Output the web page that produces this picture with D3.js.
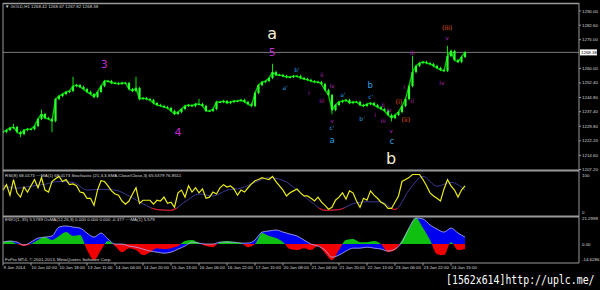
<!DOCTYPE html>
<html>
<head>
<meta charset="utf-8">
<script src="https://cdn.jsdelivr.net/npm/d3@7"></script>
<style>
  body { margin: 0; background: #000; }
  svg { display: block; }
</style>
</head>
<body>
<div id="chart"></div>
<script>
// ---- data (GOLD H1, one value every 2 bars) ----
var closes = [
  1226.8,1227.8,1228.9,1229.4,1226.8,1225.7,1227.8,1228.3,1228.3,1229.9,
  1233.6,1236.2,1234.1,1233.6,1232.5,1244.0,1245.6,1246.6,1247.7,1248.2,
  1250.8,1251.3,1250.3,1249.2,1247.7,1246.6,1245.1,1247.7,1250.8,1253.4,
  1253.4,1252.4,1252.4,1251.9,1252.4,1252.4,1249.2,1248.2,1249.8,1244.0,
  1244.5,1244.0,1243.5,1241.9,1240.9,1240.4,1239.8,1239.3,1237.8,1236.2,
  1237.2,1238.8,1240.4,1240.9,1240.4,1241.4,1241.4,1240.4,1237.8,1237.8,
  1238.8,1242.5,1242.5,1243.0,1241.9,1242.5,1243.0,1243.0,1243.5,1242.5,
  1241.4,1240.4,1247.2,1251.3,1252.9,1253.4,1255.0,1258.1,1256.6,1256.6,
  1256.0,1255.5,1255.5,1256.0,1256.0,1255.0,1254.5,1254.0,1253.4,1252.9,
  1252.9,1251.9,1248.7,1246.1,1238.3,1240.9,1242.5,1243.0,1243.5,1241.9,
  1242.5,1242.5,1240.9,1240.4,1241.4,1241.9,1240.9,1239.8,1238.8,1237.8,
  1235.7,1234.1,1235.7,1237.2,1240.4,1244.0,1250.8,1258.1,1261.3,1262.8,
  1263.4,1262.8,1262.3,1261.3,1260.2,1259.2,1258.7,1266.5,1269.1,1264.4,
  1263.4,1266.0,1268.38
];
// long wicks: [bar index, extreme price]
var spikes = [[3,1230.4],[5,1224.7],[11,1237.8],[14,1227.3],[20,1255.0],[38,1255.0],
  [56,1243.5],[77,1261.8],[94,1236.7],[111,1233.0],[117,1266.0],[127,1271.2]];

var priceTicks = ["1290.00","1282.60","1275.00","1260.00","1252.40","1244.80",
  "1237.40","1229.80","1222.20","1214.60","1207.20"];
var bidPrice = 1268.38;

var dateLabels = ["9 Jan 2014","10 Jan 02:00","10 Jan 18:00","13 Jan 11:00","14 Jan 04:00",
  "14 Jan 20:00","15 Jan 13:00","16 Jan 06:00","16 Jan 22:00","17 Jan 15:00","20 Jan 08:00",
  "21 Jan 04:00","21 Jan 20:00","22 Jan 13:00","23 Jan 06:00","23 Jan 22:00","24 Jan 15:00"];

// stochastic main (yellow), one value per price bar
var stochMain = [
  60,74,47,87,53,42,68,55,71,87, 66,92,60,55,82,89,95,82,87,74,
  76,71,55,53,39,39,21,60,84,82, 71,58,50,47,32,24,32,50,66,26,
  34,34,34,24,34,32,42,26,29,16, 53,60,42,71,55,66,53,63,39,42,
  55,50,66,74,68,71,63,47,60,55, 66,76,84,87,92,89,87,95,82,71,
  60,45,53,58,63,53,45,45,39,32, 42,29,21,11,16,34,42,53,37,58,
  53,32,16,39,34,58,47,39,29,24, 13,13,29,45,82,87,92,100,100,100,
  87,71,53,45,39,32,63,87,71,60, 42,60,71
];
// stochastic signal, one value every 4 bars
var stochSignal = [72,65,70,75,82,80,60,62,60,45,25,10,8,30,50,45,60,65,80,92,85,60,30,8,10,25,30,30,10,60,95,70,80,60];

// EWO and OsMA, one value every 2 bars
var ewo = [1.6,2.5,1.6,-0.8,1.6,4.9,5.7,6.6,13.9,14.8, 13.9,13.1,9.0,5.7,9.0,4.1,0,0,-1.6,-2.5,
  -4.1,-5.7,-6.6,-7.4,-6.6,-4.1,-1.6,1.6,0.8,0, 0,1.6,1.6,1.6,0.8,0.8,3.3,9.8,10.7,11.5,
  9.8,8.2,6.6,3.3,0,-1.6,-4.9,-10.7,-9.0,-5.7, -3.3,-3.3,-2.5,-3.3,-4.1,-5.7,-4.1,1.6,13.1,21.3,
  20.5,15.6,12.3,9.8,13.1,9.0,5.7];
var osma = [1.6,2.5,0,-1.6,0,3.3,5.7,3.3,6.6,9.8, 6.6,7.4,-4.9,-13.1,-4.9,2.5,-1.6,-6.6,-3.3,-4.9,
  -9.0,-6.6,-3.3,-4.1,-3.3,-1.6,2.5,3.3,0.8,-1.6, -2.5,1.6,2.5,1.6,0.8,-2.5,0,9.0,6.6,4.9,
  1.6,-4.1,-4.9,-3.3,-4.9,-1.6,-7.4,-13.1,-4.9,3.3, 4.1,1.6,1.6,2.5,0,-6.6,-4.9,3.3,13.1,21.3,
  13.1,3.3,-8.2,-9.0,1.6,-4.9,-4.1];

// Elliott wave marks: [text, bar index, price, degree]
var waveMarks = [
  ["3",28.9,1261.8,"major"],["4",50,1226.3,"major"],["5",76.9,1268.1,"major"],
  ["a",76.9,1278.5,"primary"],["b",110.9,1213.2,"primary"],
  ["a'",80.6,1249.8,"sub"],["b'",84,1259.7,"sub"],
  ["i",87.4,1247.2,"minor"],["ii",91.1,1256.6,"minor"],["iii",91.1,1243.5,"minor"],
  ["iv",94,1251.3,"minor"],["v",94,1233.0,"minor"],["c'",94,1228.9,"sub"],["a",94,1222.6,"inter"],
  ["a'",97.1,1246.6,"sub"],["b'",102.6,1234.1,"sub"],["b",104.9,1251.3,"inter"],["c'",105.1,1245.1,"sub"],
  ["i",106.3,1235.7,"minor"],["ii",108.6,1241.4,"minor"],["iii",108.6,1233.0,"minor"],
  ["iv",110.3,1238.3,"minor"],["v",110.9,1227.8,"minor"],["c",111.1,1222.1,"inter"],
  ["(i)",113.1,1242.5,"minute"],["(ii)",115.1,1233.0,"minute"],
  ["i",114.6,1250.3,"minor"],["ii",116.9,1243.5,"minor"],["iii",116.9,1268.1,"minor"],
  ["iv",125.4,1252.9,"minor"],["v",126.9,1275.9,"minor"],["(iii)",126.9,1281.1,"minute"]
];

// ---- drawing ----
var width = 600, height = 290;
var left = 3, right = 579;
var tinyFont = "Liberation Sans, Arial, sans-serif";
var gridCol = "#9a9a9a";
var textCol = "#d8d8d8";

var svg = d3.select("#chart").append("svg")
    .attr("width", width)
    .attr("height", height);

svg.append("rect").attr("width", width).attr("height", height).attr("fill", "#000");

// x scale: index of the 2-hour step
var x = d3.scaleLinear().domain([0, closes.length - 1]).range([3, 465]);

// ---- price panel ----
var y = d3.scaleLinear().domain([1207.2, 1290]).range([169.5, 11]);

var defs = svg.append("defs");
defs.append("clipPath").attr("id", "mainClip")
    .append("rect").attr("x", left).attr("y", 4).attr("width", right - left).attr("height", 166);

// bid line
svg.append("line")
    .attr("x1", left).attr("x2", right)
    .attr("y1", y(bidPrice)).attr("y2", y(bidPrice))
    .attr("stroke", "#7a7a7a").attr("stroke-width", 1);

var bars = closes.map(function(c, i) {
    var o = i === 0 ? closes[0] : closes[i - 1];
    return {i: i, o: o, c: c, hi: Math.max(o, c), lo: Math.min(o, c)};
});
spikes.forEach(function(s) {
    var b = bars[s[0]];
    if (s[1] > b.hi) b.hi = s[1];
    if (s[1] < b.lo) b.lo = s[1];
});

var candles = svg.append("g").attr("clip-path", "url(#mainClip)");
// thin trace through the closes keeps the bars joined like the dense hourly chart
candles.append("path").datum(closes)
    .attr("d", d3.line().x(function(d, i) { return x(i); }).y(function(d) { return y(d); }))
    .attr("fill", "none").attr("stroke", "#00c800").attr("stroke-width", 1.4);
candles.selectAll("line.wick")
    .data(bars)
    .enter().append("line")
    .attr("class", "wick")
    .attr("x1", function(d) { return x(d.i); })
    .attr("x2", function(d) { return x(d.i); })
    .attr("y1", function(d) { return y(d.hi) - 1.2; })
    .attr("y2", function(d) { return y(d.lo) + 1.2; })
    .attr("stroke", "#00e600")
    .attr("stroke-width", 1);
candles.selectAll("rect.body")
    .data(bars)
    .enter().append("rect")
    .attr("class", "body")
    .attr("x", function(d) { return x(d.i) - 1.1; })
    .attr("width", 2.2)
    .attr("y", function(d) { return y(Math.max(d.o, d.c)); })
    .attr("height", function(d) { return Math.max(1, Math.abs(y(d.o) - y(d.c))); })
    .attr("fill", "#2cff2c");

// wave labels
var markStyle = {
    major:   {size: 11, color: "#c02ad2"},
    primary: {size: 16, color: "#f2eed8"},
    inter:   {size: 8.5, color: "#2e9fe0"},
    sub:     {size: 6, color: "#2e9fe0"},
    minor:   {size: 6, color: "#b02abc"},
    minute:  {size: 6.5, color: "#e0561c"}
};
svg.append("g").selectAll("text")
    .data(waveMarks)
    .enter().append("text")
    .attr("x", function(d) { return x(d[1]); })
    .attr("y", function(d) { return y(d[2]); })
    .attr("text-anchor", "middle")
    .attr("dominant-baseline", "central")
    .attr("font-family", "DejaVu Sans, sans-serif")
    .attr("font-size", function(d) { return markStyle[d[3]].size; })
    .attr("fill", function(d) { return markStyle[d[3]].color; })
    .text(function(d) { return d[0]; });

// header
svg.append("text")
    .attr("x", 5).attr("y", 7.5)
    .attr("font-family", tinyFont).attr("font-size", 4.4).attr("fill", textCol)
    .text("\u25BC GOLD,H1  1268.42 1268.67 1267.82 1268.38");

// price axis labels
var yAxisG = svg.append("g");
yAxisG.selectAll("text")
    .data(priceTicks)
    .enter().append("text")
    .attr("x", 582)
    .attr("y", function(d) { return y(+d) + 1.5; })
    .attr("font-family", tinyFont).attr("font-size", 4.4).attr("fill", textCol)
    .text(function(d) { return d; });
yAxisG.selectAll("line")
    .data(priceTicks)
    .enter().append("line")
    .attr("x1", right).attr("x2", right + 2)
    .attr("y1", function(d) { return y(+d); })
    .attr("y2", function(d) { return y(+d); })
    .attr("stroke", gridCol);
svg.append("rect")
    .attr("x", 580).attr("y", y(bidPrice) - 3).attr("width", 17).attr("height", 6)
    .attr("fill", "#fff");
svg.append("text")
    .attr("x", 581).attr("y", y(bidPrice) + 1.5)
    .attr("font-family", tinyFont).attr("font-size", 4.4).attr("fill", "#000")
    .text(bidPrice.toFixed(2));

// ---- stochastic panel ----
var yS = d3.scaleLinear().domain([0, 100]).range([213.5, 174.5]);

defs.append("clipPath").attr("id", "lowClip")
    .append("rect").attr("x", left).attr("y", yS(15)).attr("width", right - left).attr("height", 20);

var sigLine = d3.line()
    .x(function(d, i) { return x(i * 4); })
    .y(function(d) { return yS(d); })
    .curve(d3.curveMonotoneX);
svg.append("path").datum(stochSignal)
    .attr("d", sigLine).attr("fill", "none")
    .attr("stroke", "#3a3a96").attr("stroke-width", 1);
svg.append("path").datum(stochSignal)
    .attr("d", sigLine).attr("fill", "none")
    .attr("clip-path", "url(#lowClip)")
    .attr("stroke", "#c81414").attr("stroke-width", 1.2);

svg.append("path").datum(stochMain)
    .attr("d", d3.line().x(function(d, i) { return x(i); }).y(function(d) { return yS(d); }))
    .attr("fill", "none").attr("stroke", "#ecec1c").attr("stroke-width", 1.2);

svg.append("text")
    .attr("x", 5).attr("y", 177)
    .attr("font-family", tinyFont).attr("font-size", 4.4).attr("fill", textCol)
    .text("RSI(8) 68.0173  ~~MA(1) 68.0173  Stochastic (21,3,3,SMA,Close/Close,3) 65.5379 76.8511");
svg.append("text").attr("x", 582).attr("y", 177)
    .attr("font-family", tinyFont).attr("font-size", 4.4).attr("fill", textCol).text("100");
svg.append("text").attr("x", 582).attr("y", 214)
    .attr("font-family", tinyFont).attr("font-size", 4.4).attr("fill", textCol).text("0");

// ---- EWO panel ----
var yE = d3.scaleLinear().domain([-14.6286, 21.2998]).range([262, 218]);
var zeroY = yE(0);

defs.append("clipPath").attr("id", "posClip")
    .append("rect").attr("x", left).attr("y", 217).attr("width", right - left).attr("height", zeroY - 217);
defs.append("clipPath").attr("id", "negClip")
    .append("rect").attr("x", left).attr("y", zeroY).attr("width", right - left).attr("height", 263 - zeroY);

var ewoArea = d3.area()
    .x(function(d, i) { return x(i * 2); })
    .y0(zeroY)
    .y1(function(d) { return yE(d); })
    .curve(d3.curveMonotoneX);

svg.append("path").datum(ewo)
    .attr("d", ewoArea).attr("fill", "#0000f0");
svg.append("path").datum(osma)
    .attr("d", ewoArea).attr("fill", "#10c010").attr("clip-path", "url(#posClip)");
svg.append("path").datum(osma)
    .attr("d", ewoArea).attr("fill", "#f00000").attr("clip-path", "url(#negClip)");
svg.append("path").datum(ewo)
    .attr("d", d3.line().x(function(d, i) { return x(i * 2); }).y(function(d) { return yE(d); }).curve(d3.curveMonotoneX))
    .attr("fill", "none").attr("stroke", "#b4b4ff").attr("stroke-width", 0.8);

svg.append("text")
    .attr("x", 5).attr("y", 220.5)
    .attr("font-family", tinyFont).attr("font-size", 4.4).attr("fill", textCol)
    .text("EWO(1, 35) 5.5789  OsMA(12,26,9) 0.000 0.000 0.000 -0.377  ~~MA(1) 5.579");
svg.append("text")
    .attr("x", 5).attr("y", 260.5)
    .attr("font-family", tinyFont).attr("font-size", 4.4).attr("fill", textCol)
    .text("FxPro MT4, \u00A9 2001-2013, MetaQuotes Software Corp.");

[["21.2998", 21.2998, 1.5], ["0.00", 0, 1.5], ["-14.6286", -14.6286, -1]].forEach(function(t) {
    svg.append("text").attr("x", 582).attr("y", yE(t[1]) + t[2])
        .attr("font-family", tinyFont).attr("font-size", 4.4).attr("fill", textCol).text(t[0]);
});

// ---- frame and separators ----
var frame = svg.append("g").attr("stroke", gridCol).attr("fill", "none");
frame.append("line").attr("x1", left).attr("x2", right).attr("y1", 3.5).attr("y2", 3.5).attr("stroke-width", 1.5);
frame.append("line").attr("x1", left).attr("x2", right).attr("y1", 170.5).attr("y2", 170.5).attr("stroke-width", 2);
frame.append("line").attr("x1", left).attr("x2", right).attr("y1", 216.5).attr("y2", 216.5).attr("stroke-width", 2);
frame.append("line").attr("x1", left).attr("x2", right).attr("y1", 263).attr("y2", 263).attr("stroke-width", 1);
frame.append("line").attr("x1", 3).attr("x2", 3).attr("y1", 3).attr("y2", 263).attr("stroke-width", 1);
frame.append("line").attr("x1", right).attr("x2", right).attr("y1", 3).attr("y2", 263).attr("stroke-width", 1);

// ---- time axis ----
var timeG = svg.append("g");
timeG.selectAll("line")
    .data(dateLabels)
    .enter().append("line")
    .attr("x1", function(d, k) { return x(k * 8); })
    .attr("x2", function(d, k) { return x(k * 8); })
    .attr("y1", 263).attr("y2", 265.5)
    .attr("stroke", gridCol);
timeG.selectAll("text")
    .data(dateLabels)
    .enter().append("text")
    .attr("x", function(d, k) { return x(k * 8) + 0.5; })
    .attr("y", 268.5)
    .attr("font-family", tinyFont).attr("font-size", 4.4).attr("fill", textCol)
    .text(function(d) { return d; });

// watermark (narrowed with a horizontal scale so its box stays inside the page)
svg.append("text")
    .attr("transform", "translate(446,284) scale(0.76,1)")
    .attr("font-family", "DejaVu Sans Mono, monospace").attr("font-size", 13)
    .attr("fill", "#fff")
    .text("[1562x614]http://uplc.me/");
</script>
</body>
</html>
